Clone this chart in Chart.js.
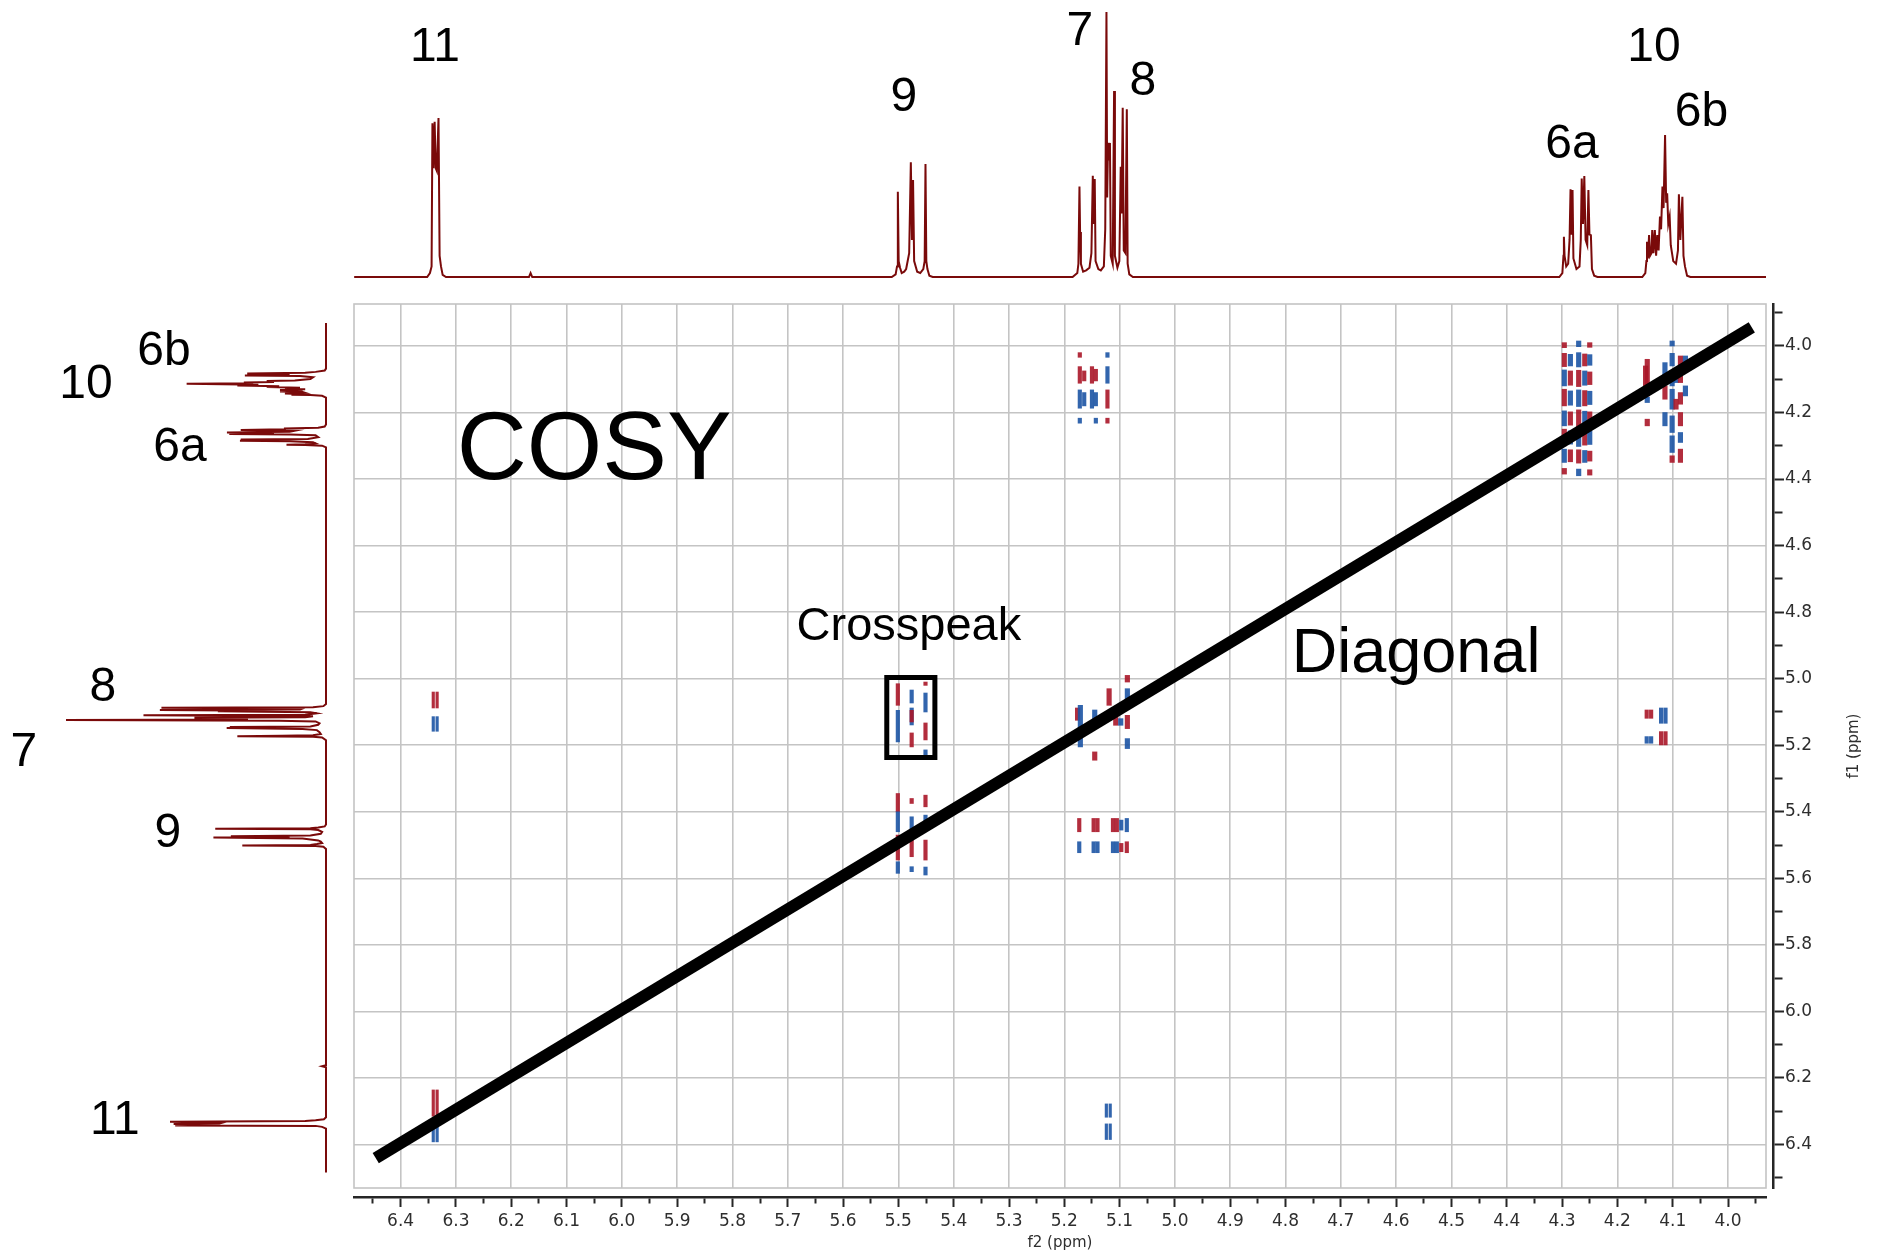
<!DOCTYPE html>
<html>
<head>
<meta charset="utf-8">
<title>COSY</title>
<script src="https://cdn.jsdelivr.net/npm/chart.js@4.4.1/dist/chart.umd.min.js"></script>
<style>
  html, body { margin: 0; padding: 0; background: #fff; }
  #wrap { position: relative; width: 1881px; height: 1259px; overflow: hidden; }
  canvas { position: absolute; left: 0; top: 0; }
</style>
</head>
<body>
<div id="wrap">
  <canvas id="cosy" width="1881" height="1259"></canvas>
  <canvas id="proj_f2" width="1881" height="300"></canvas>
  <canvas id="proj_f1" width="340" height="1259"></canvas>
</div>
<script>
// 1H trace, one array per multiplet: [ppm, relative intensity]
const traceStart = [[6.484, 0]];
const trace11 = [[6.352, 0], [6.347, 1.5], [6.344, 4], [6.3425, 58], [6.3405, 41], [6.3385, 58.6],
  [6.3365, 41], [6.3345, 40], [6.3315, 60], [6.3295, 8], [6.327, 4], [6.324, 0.8], [6.318, 0]];
const traceBump = [[6.168, 0], [6.165, 1.5], [6.162, 0]];
const trace9 = [[5.512, 0], [5.505, 1], [5.5025, 4], [5.501, 32.2], [5.4995, 6], [5.497, 3.5],
  [5.494, 1.5], [5.4895, 2], [5.486, 3], [5.4805, 9], [5.4775, 43.3], [5.4755, 14], [5.4735, 36.6],
  [5.4715, 6], [5.466, 2], [5.4605, 1.5], [5.455, 3], [5.4525, 6], [5.451, 42.6], [5.4495, 6],
  [5.4475, 3], [5.444, 0.5], [5.438, 0]];
const trace78 = [[5.185, 0], [5.1765, 1.5], [5.1745, 5], [5.1726, 34.1], [5.1715, 17], [5.170, 5],
  [5.166, 2], [5.1605, 2.5], [5.1545, 3.5], [5.151, 9], [5.1485, 38.2], [5.147, 20], [5.145, 37],
  [5.1435, 6], [5.1385, 3], [5.134, 2.5], [5.1285, 4], [5.126, 18], [5.1238, 100], [5.1225, 30],
  [5.121, 50.6], [5.1195, 44], [5.1175, 50.6], [5.116, 8], [5.1125, 5], [5.110, 70.2], [5.1085, 8],
  [5.104, 3.5], [5.1005, 6], [5.098, 41.6], [5.0965, 24], [5.0944, 63.9], [5.0925, 10], [5.0895, 9],
  [5.087, 63.3], [5.0855, 5], [5.0825, 1], [5.076, 0]];
const trace6a = [[4.305, 0], [4.2995, 1.5], [4.2975, 8], [4.2967, 15.2], [4.2955, 8], [4.2925, 4],
  [4.289, 5], [4.2865, 14], [4.2847, 33.1], [4.283, 16], [4.2811, 32.8], [4.2795, 7], [4.274, 3],
  [4.2685, 4], [4.2662, 14], [4.2645, 37.2], [4.2622, 20], [4.2598, 38.1], [4.2575, 14], [4.2545, 12],
  [4.2524, 32.8], [4.2505, 16], [4.2479, 15.8], [4.246, 3], [4.242, 0.5], [4.236, 0]];
const trace106b = [[4.155, 0], [4.1495, 1.5], [4.1475, 6], [4.1465, 13.3], [4.1448, 7], [4.1427, 15.8],
  [4.141, 8], [4.1385, 9], [4.137, 17.7], [4.1348, 9], [4.1323, 17.7], [4.130, 8], [4.1278, 15.8],
  [4.1255, 10], [4.123, 22.8], [4.121, 18], [4.1185, 34.1], [4.1165, 26], [4.1138, 53.6], [4.1118, 28],
  [4.110, 31.6], [4.108, 20], [4.1055, 22.8], [4.1035, 12], [4.099, 6], [4.094, 5], [4.0905, 10],
  [4.0888, 31.2], [4.0862, 14], [4.0825, 30.3], [4.0805, 8], [4.0778, 4], [4.074, 0.5], [4.068, 0]];
const traceEnd = [[3.931, 0]];

// axis ticks (ppm)
const f2Major = [6.4, 6.3, 6.2, 6.1, 6.0, 5.9, 5.8, 5.7, 5.6, 5.5, 5.4, 5.3, 5.2, 5.1, 5.0,
  4.9, 4.8, 4.7, 4.6, 4.5, 4.4, 4.3, 4.2, 4.1, 4.0];
const f2Minor = [6.45, 6.35, 6.25, 6.15, 6.05, 5.95, 5.85, 5.75, 5.65, 5.55, 5.45, 5.35, 5.25,
  5.15, 5.05, 4.95, 4.85, 4.75, 4.65, 4.55, 4.45, 4.35, 4.25, 4.15, 4.05, 3.95];
const f1Major = [4.0, 4.2, 4.4, 4.6, 4.8, 5.0, 5.2, 5.4, 5.6, 5.8, 6.0, 6.2, 6.4];
const f1Minor = [3.9, 4.1, 4.3, 4.5, 4.7, 4.9, 5.1, 5.3, 5.5, 5.7, 5.9, 6.1, 6.3, 6.5];

// contour strips: [f2, f1 from, f1 to, phase]
const pk11x78 = [[6.341, 5.040, 5.088, 1], [6.334, 5.040, 5.088, 1],
  [6.341, 5.114, 5.158, -1], [6.334, 5.114, 5.158, -1]];
const pk11x11 = [[6.341, 6.236, 6.315, 1], [6.334, 6.236, 6.315, 1],
  [6.341, 6.322, 6.392, -1], [6.334, 6.322, 6.392, -1]];
const pk78x11 = [[5.124, 6.278, 6.318, -1], [5.117, 6.278, 6.318, -1],
  [5.124, 6.338, 6.385, -1], [5.117, 6.338, 6.385, -1]];
const pk9x78 = [[5.501, 5.015, 5.080, 1], [5.501, 5.095, 5.190, -1],
  [5.476, 5.034, 5.073, -1], [5.476, 5.088, 5.139, -1], [5.476, 5.095, 5.130, 1], [5.476, 5.163, 5.205, 1],
  [5.451, 5.010, 5.020, 1], [5.451, 5.043, 5.100, -1], [5.451, 5.133, 5.184, 1], [5.451, 5.214, 5.230, -1]];
const pk9x9 = [[5.501, 5.345, 5.400, 1], [5.501, 5.400, 5.460, -1], [5.501, 5.470, 5.545, 1], [5.501, 5.550, 5.585, -1],
  [5.476, 5.360, 5.375, 1], [5.476, 5.415, 5.455, -1], [5.476, 5.485, 5.535, 1], [5.476, 5.565, 5.580, -1],
  [5.451, 5.350, 5.385, 1], [5.451, 5.410, 5.455, -1], [5.451, 5.485, 5.545, 1], [5.451, 5.566, 5.590, -1]];
const pk78x78 = [[5.173, 5.025, 5.055, -1], [5.176, 5.088, 5.125, 1], [5.171, 5.080, 5.205, -1],
  [5.173, 5.232, 5.265, -1], [5.145, 5.094, 5.135, -1], [5.140, 5.110, 5.175, 1], [5.145, 5.220, 5.245, 1],
  [5.122, 4.980, 5.010, -1], [5.124, 5.025, 5.085, 1], [5.119, 5.030, 5.080, 1], [5.122, 5.094, 5.163, -1],
  [5.122, 5.163, 5.214, 1], [5.122, 5.225, 5.265, -1], [5.107, 5.110, 5.140, 1], [5.098, 5.120, 5.140, -1],
  [5.086, 4.990, 5.010, 1], [5.086, 5.030, 5.085, -1], [5.086, 5.110, 5.150, 1], [5.086, 5.180, 5.210, -1]];
const pk78x9 = [[5.173, 5.420, 5.460, 1], [5.147, 5.420, 5.460, 1], [5.140, 5.420, 5.460, 1],
  [5.112, 5.420, 5.460, 1], [5.105, 5.420, 5.460, 1], [5.097, 5.425, 5.455, -1], [5.087, 5.420, 5.460, -1],
  [5.173, 5.490, 5.523, -1], [5.147, 5.490, 5.523, -1], [5.140, 5.490, 5.523, -1],
  [5.112, 5.490, 5.523, -1], [5.105, 5.490, 5.523, -1], [5.097, 5.495, 5.520, 1], [5.087, 5.490, 5.523, 1]];
const pk78x6 = [[5.172, 4.020, 4.034, 1], [5.122, 4.020, 4.034, -1],
  [5.172, 4.062, 4.112, 1], [5.164, 4.075, 4.105, 1], [5.150, 4.062, 4.112, 1], [5.143, 4.070, 4.105, 1],
  [5.122, 4.062, 4.112, -1], [5.172, 4.132, 4.187, -1], [5.164, 4.140, 4.180, -1], [5.150, 4.132, 4.187, -1],
  [5.143, 4.140, 4.180, -1], [5.122, 4.132, 4.187, 1],
  [5.172, 4.217, 4.232, -1], [5.143, 4.217, 4.232, -1], [5.122, 4.217, 4.232, 1]];
const pk6x78 = [[4.147, 5.094, 5.119, 1], [4.139, 5.094, 5.119, 1], [4.121, 5.088, 5.134, -1], [4.113, 5.088, 5.134, -1],
  [4.147, 5.174, 5.194, -1], [4.139, 5.174, 5.194, -1], [4.121, 5.159, 5.199, 1], [4.113, 5.159, 5.199, 1]];
const pk6a = [[4.296, 3.990, 4.005, 1], [4.296, 4.022, 4.062, 1], [4.296, 4.072, 4.120, -1],
  [4.296, 4.130, 4.180, 1], [4.296, 4.195, 4.240, -1], [4.296, 4.250, 4.300, 1], [4.296, 4.310, 4.350, -1],
  [4.296, 4.368, 4.385, 1], [4.285, 4.025, 4.060, -1], [4.285, 4.075, 4.118, 1], [4.285, 4.135, 4.178, -1],
  [4.285, 4.198, 4.238, 1], [4.285, 4.255, 4.295, -1], [4.285, 4.312, 4.348, 1],
  [4.270, 3.985, 4.002, -1], [4.270, 4.020, 4.063, -1], [4.270, 4.073, 4.122, 1], [4.270, 4.132, 4.182, -1],
  [4.270, 4.192, 4.242, 1], [4.270, 4.252, 4.302, -1], [4.270, 4.312, 4.352, 1], [4.270, 4.370, 4.390, -1],
  [4.259, 4.024, 4.060, 1], [4.259, 4.075, 4.118, -1], [4.259, 4.134, 4.180, 1], [4.259, 4.196, 4.240, -1],
  [4.259, 4.254, 4.298, 1], [4.259, 4.314, 4.350, -1],
  [4.250, 3.990, 4.004, 1], [4.250, 4.026, 4.058, -1], [4.250, 4.078, 4.116, 1], [4.250, 4.136, 4.176, -1],
  [4.250, 4.198, 4.236, 1], [4.250, 4.256, 4.296, -1], [4.250, 4.316, 4.346, 1], [4.250, 4.372, 4.388, 1]];
const pk6b10 = [[4.146, 4.040, 4.150, 1], [4.149, 4.060, 4.120, 1], [4.146, 4.154, 4.170, -1], [4.146, 4.220, 4.240, 1],
  [4.121, 4.020, 4.100, 1], [4.121, 4.110, 4.170, 1], [4.121, 4.180, 4.250, 1], [4.121, 4.260, 4.290, -1],
  [4.121, 4.300, 4.350, 1], [4.121, 4.370, 4.385, 1],
  [4.114, 4.050, 4.090, -1], [4.114, 4.120, 4.160, 1], [4.114, 4.200, 4.240, -1],
  [4.101, 3.985, 4.000, -1], [4.101, 4.022, 4.060, -1], [4.101, 4.075, 4.120, -1], [4.101, 4.130, 4.190, -1],
  [4.101, 4.210, 4.260, -1], [4.101, 4.270, 4.320, -1], [4.101, 4.330, 4.350, 1],
  [4.094, 4.080, 4.110, -1], [4.094, 4.160, 4.190, 1],
  [4.086, 4.030, 4.110, 1], [4.086, 4.140, 4.175, 1], [4.086, 4.200, 4.240, 1], [4.086, 4.260, 4.290, -1],
  [4.086, 4.310, 4.350, 1], [4.077, 4.030, 4.060, -1], [4.077, 4.120, 4.150, -1]];

// diagonal and the marked cross peak (ppm)
const diagF2 = [6.445, 3.957];
const diagF1 = [6.441, 3.944];
const boxF2 = [5.521, 5.434];
const boxF1 = [4.996, 5.237];

// plotted ranges (ppm)
const f2Lim = [3.9313, 6.4843];
const f1Lim = [3.8738, 6.5307];

const GRID = '#c4c4c4';
const AXIS = '#262626';
const TRACE = '#7a0a0a';
const POS = 'rgba(170, 22, 40, 0.9)';
const NEG = 'rgba(28, 84, 164, 0.9)';
const LABEL_FONT = '"Liberation Sans", Arial, sans-serif';
const TICK_FONT = { family: 'DejaVu Sans', size: 17 };
const TICK_COLOR = '#2e2e2e';

Chart.defaults.font.family = 'DejaVu Sans';

const trace = [].concat(traceStart, trace11, traceBump, trace9, trace78, trace6a, trace106b, traceEnd);
const f2Ticks = f2Major.concat(f2Minor).sort((a, b) => b - a);
const f1Ticks = f1Major.concat(f1Minor).sort((a, b) => a - b);

// text drawn at data coordinates of whichever chart it is attached to
const textLabels = {
  id: 'textLabels',
  afterDatasetsDraw(chart, args, opts) {
    const { ctx, scales: { x, y } } = chart;
    ctx.save();
    ctx.fillStyle = '#000';
    ctx.textAlign = 'center';
    ctx.textBaseline = 'alphabetic';
    (opts.items || []).forEach(it => {
      ctx.font = it.size + 'px ' + LABEL_FONT;
      ctx.fillText(it.text, x.getPixelForValue(it.x), y.getPixelForValue(it.y));
    });
    ctx.restore();
  }
};

// grey frame round the grid and the f1 title reading upwards
const plotFrame = {
  id: 'plotFrame',
  beforeDatasetsDraw(chart) {
    const { ctx, chartArea: { left, top, width, height } } = chart;
    ctx.save();
    ctx.strokeStyle = GRID;
    ctx.lineWidth = 1.6;
    ctx.strokeRect(left, top, width, height);
    ctx.restore();
  },
  afterDraw(chart) {
    const { ctx, chartArea, scales: { yAxis } } = chart;
    ctx.save();
    ctx.translate(yAxis.right - 27, (chartArea.top + chartArea.bottom) / 2);
    ctx.rotate(-Math.PI / 2);
    ctx.font = '15px "DejaVu Sans"';
    ctx.fillStyle = TICK_COLOR;
    ctx.textAlign = 'center';
    ctx.textBaseline = 'middle';
    ctx.fillText('f1 (ppm)', 0, 0);
    ctx.restore();
  }
};

function contourSet(rows, thickness) {
  return {
    type: 'bar',
    data: rows.map(r => ({ x: r[0], y: [r[1], r[2]], phase: r[3] })),
    backgroundColor: c => (c.raw && c.raw.phase > 0 ? POS : NEG),
    barThickness: thickness,
    borderWidth: 0,
    borderSkipped: false,
    stack: 'contours',
    order: 2
  };
}

const baseOpts = {
  responsive: false,
  maintainAspectRatio: false,
  animation: false,
  devicePixelRatio: 1,
  events: []
};

const isMajor = (list, c) => c.tick && list.includes(c.tick.value);

// 2D map
const cosyChart = new Chart(document.getElementById('cosy'), {
  type: 'scatter',
  data: {
    datasets: [
      {
        type: 'line',
        data: diagF2.map((v, i) => ({ x: v, y: diagF1[i] })),
        borderColor: '#000',
        borderWidth: 12,
        borderCapStyle: 'butt',
        pointRadius: 0,
        order: 0
      },
      {
        type: 'line',
        data: [
          { x: boxF2[0], y: boxF1[0] }, { x: boxF2[1], y: boxF1[0] },
          { x: boxF2[1], y: boxF1[1] }, { x: boxF2[0], y: boxF1[1] },
          { x: boxF2[0], y: boxF1[0] }
        ],
        borderColor: '#000',
        borderWidth: 5,
        borderCapStyle: 'square',
        borderJoinStyle: 'miter',
        pointRadius: 0,
        order: 1
      },
      contourSet([].concat(pk11x78, pk11x11, pk78x11), 2.5),
      contourSet([].concat(pk9x78, pk9x9, pk78x9, pk78x6, pk6x78), 3.5),
      contourSet([].concat(pk78x78, pk6a, pk6b10), 4.5)
    ]
  },
  options: Object.assign({}, baseOpts, {
    layout: { padding: { left: 354, top: 304, right: 0, bottom: 0 } },
    plugins: {
      legend: { display: false },
      tooltip: { enabled: false },
      textLabels: {
        items: [
          { text: 'COSY', x: 6.050, y: 4.400, size: 97 },
          { text: 'Crosspeak', x: 5.481, y: 4.884, size: 47 },
          { text: 'Diagonal', x: 4.564, y: 4.980, size: 63 }
        ]
      }
    },
    scales: {
      x: {
        type: 'linear', position: 'bottom', weight: 0, offset: false,
        min: f2Lim[0], max: f2Lim[1], reverse: true, bounds: 'data',
        afterBuildTicks: s => { s.ticks = f2Major.map(v => ({ value: v })); },
        afterFit: s => { s.height = 9; },
        grid: { offset: false, color: GRID, lineWidth: 1.6, drawTicks: true, tickLength: 9, tickColor: 'rgba(0,0,0,0)' },
        border: { display: false },
        ticks: { display: false }
      },
      xAxis: {
        type: 'linear', position: 'bottom', weight: 1, offset: false,
        min: f2Lim[0], max: f2Lim[1], reverse: true, bounds: 'data',
        afterBuildTicks: s => { s.ticks = f2Ticks.map(v => ({ value: v })); },
        afterFit: s => { s.height = 62; },
        grid: {
          offset: false, drawOnChartArea: false, drawTicks: true, tickLength: 10, tickWidth: 2, tickColor: AXIS,
          tickBorderDash: c => (isMajor(f2Major, c) ? [] : [5, 40])
        },
        border: { display: true, color: AXIS, width: 2.5 },
        ticks: {
          autoSkip: false, maxRotation: 0, minRotation: 0, padding: 4,
          color: TICK_COLOR, font: TICK_FONT,
          callback: v => (f2Major.includes(v) ? v.toFixed(1) : '')
        },
        title: {
          display: true, text: 'f2 (ppm)', color: TICK_COLOR,
          font: { family: 'DejaVu Sans', size: 15 }, padding: { top: 0, bottom: 7 }
        }
      },
      y: {
        type: 'linear', position: 'right', weight: 0, offset: false, beginAtZero: false,
        min: f1Lim[0], max: f1Lim[1], reverse: true, bounds: 'data',
        afterBuildTicks: s => { s.ticks = f1Major.map(v => ({ value: v })); },
        afterFit: s => { s.width = 7; },
        grid: { offset: false, color: GRID, lineWidth: 1.6, drawTicks: true, tickLength: 7, tickColor: 'rgba(0,0,0,0)' },
        border: { display: false },
        ticks: { display: false }
      },
      yAxis: {
        type: 'linear', position: 'right', weight: 1, offset: false,
        min: f1Lim[0], max: f1Lim[1], reverse: true, bounds: 'data',
        afterBuildTicks: s => { s.ticks = f1Ticks.map(v => ({ value: v })); },
        afterFit: s => { s.width = 108; },
        grid: {
          offset: false, drawOnChartArea: false, drawTicks: true, tickLength: 11, tickWidth: 2, tickColor: AXIS,
          tickBorderDash: c => (isMajor(f1Major, c) ? [] : [8, 40])
        },
        border: { display: true, color: AXIS, width: 2.5 },
        ticks: {
          autoSkip: false, padding: 1, color: TICK_COLOR, font: TICK_FONT,
          callback: v => (f1Major.includes(v) ? v.toFixed(1) : '')
        }
      }
    }
  }),
  plugins: [plotFrame, textLabels]
});

// f2 projection on top
new Chart(document.getElementById('proj_f2'), {
  type: 'scatter',
  data: {
    datasets: [{
      type: 'line',
      data: trace.map(p => ({ x: p[0], y: p[1] })),
      borderColor: TRACE, borderWidth: 2, pointRadius: 0, tension: 0
    }]
  },
  options: Object.assign({}, baseOpts, {
    layout: { padding: { left: 354, right: 115, top: 8, bottom: 17 } },
    plugins: {
      legend: { display: false },
      tooltip: { enabled: false },
      textLabels: {
        items: [
          { text: '11', x: 6.338, y: 81.5, size: 48 },
          { text: '9', x: 5.490, y: 62.6, size: 48 },
          { text: '7', x: 5.172, y: 87.5, size: 48 },
          { text: '8', x: 5.058, y: 68.7, size: 48 },
          { text: '10', x: 4.134, y: 81.5, size: 48 },
          { text: '6b', x: 4.048, y: 57.0, size: 48 },
          { text: '6a', x: 4.282, y: 44.9, size: 48 }
        ]
      }
    },
    scales: {
      x: { type: 'linear', display: false, min: f2Lim[0], max: f2Lim[1], reverse: true },
      y: { type: 'linear', display: false, min: -2.26, max: 101.5 }
    }
  }),
  plugins: [textLabels]
});

// f1 projection on the left
new Chart(document.getElementById('proj_f1'), {
  type: 'scatter',
  data: {
    datasets: [{
      type: 'line',
      data: trace.map(p => ({ x: p[1], y: p[0] })),
      borderColor: TRACE, borderWidth: 2, pointRadius: 0, tension: 0
    }]
  },
  options: Object.assign({}, baseOpts, {
    layout: { padding: { left: 60.8, right: 8.8, top: 304, bottom: 71 } },
    plugins: {
      legend: { display: false },
      tooltip: { enabled: false },
      textLabels: {
        items: [
          { text: '6b', x: 62.3, y: 4.057, size: 48 },
          { text: '10', x: 92.3, y: 4.156, size: 48 },
          { text: '6a', x: 56.2, y: 4.346, size: 48 },
          { text: '8', x: 85.8, y: 5.067, size: 48 },
          { text: '7', x: 116.2, y: 5.262, size: 48 },
          { text: '9', x: 60.8, y: 5.506, size: 48 },
          { text: '11', x: 81.2, y: 6.368, size: 48 }
        ]
      }
    },
    scales: {
      x: { type: 'linear', display: false, min: -2, max: 102, reverse: true },
      y: { type: 'linear', display: false, min: f1Lim[0], max: f1Lim[1], reverse: true }
    }
  }),
  plugins: [textLabels]
});
</script>
</body>
</html>
